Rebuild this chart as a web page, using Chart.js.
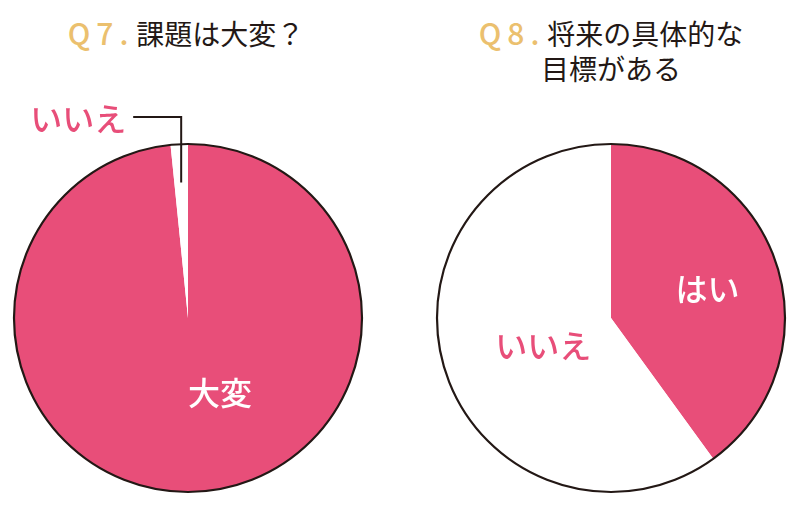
<!DOCTYPE html>
<html>
<head>
<meta charset="utf-8">
<script src="https://cdn.jsdelivr.net/npm/chart.js@4.4.1/dist/chart.umd.min.js"></script>
<style>
  body { margin: 0; background: #fff; width: 800px; height: 507px; position: relative; overflow: hidden;
         font-family: "Noto Sans CJK JP", "Noto Sans", sans-serif; }
  .box { position: absolute; top: 0; width: 400px; height: 507px; }
  .title { position: absolute; top: 15px; text-align: center; font-size: 28px; line-height: 35px;
           color: #231815; white-space: nowrap; }
  .q { color: #EBC06E; font-weight: 500; font-size: 30px; letter-spacing: 6px; margin-right: 2px; }
  canvas { position: absolute; top: 0; left: 0; }
</style>
</head>
<body>
<div class="box" style="left:0">
  <div class="title" style="left:-14px;width:400px"><span class="q">Q7.</span>課題は大変？</div>
  <canvas id="q7" width="400" height="507"></canvas>
</div>
<div class="box" style="left:400px">
  <div class="title" style="left:11px;width:400px"><span class="q">Q8.</span>将来の具体的な<br>目標がある</div>
  <canvas id="q8" width="400" height="507"></canvas>
</div>
<script>
const PINK = '#E84E79';
const INK = '#231815';

const q7Labels = ['大変', 'いいえ'];
const q7Values = [98.4, 1.6];
const q7Colors = [PINK, '#ffffff'];

const q8Labels = ['はい', 'いいえ'];
const q8Values = [40, 60];
const q8Colors = [PINK, '#ffffff'];

// where each label sits: angle from top (deg, clockwise) and fraction of radius; leader = label outside with a line
const q7Place = [{ angle: 157, r: 0.47, color: '#fff' }, { leader: true }];
const q8Place = [{ angle: 73, r: 0.58, color: '#fff' }, { angle: 248, r: 0.42, color: PINK }];

const labelFont = '500 32px "Noto Sans CJK JP", sans-serif';

function pieDeco(place) {
  return {
    id: 'pieDeco',
    afterDatasetsDraw(chart) {
      const ctx = chart.ctx;
      const meta = chart.getDatasetMeta(0);
      const first = meta.data[0];
      const cx = first.x, cy = first.y, R = first.outerRadius;

      // outer ring
      ctx.save();
      ctx.beginPath();
      ctx.arc(cx, cy, R, 0, Math.PI * 2);
      ctx.lineWidth = 2.2;
      ctx.strokeStyle = INK;
      ctx.stroke();

      ctx.font = labelFont;
      ctx.textBaseline = 'middle';
      const labels = chart.data.labels;
      place.forEach((p, i) => {
        const arc = meta.data[i];
        if (!p.leader) {
          const a = p.angle * Math.PI / 180;
          ctx.fillStyle = p.color;
          ctx.textAlign = 'center';
          ctx.fillText(labels[i], cx + Math.sin(a) * R * p.r, cy - Math.cos(a) * R * p.r);
        } else {
          const mid = (arc.startAngle + arc.endAngle) / 2;
          const px = cx + Math.cos(mid) * R * 0.78;
          const py = cy + Math.sin(mid) * R * 0.78;
          const ly = cy - R - 27;
          ctx.beginPath();
          ctx.moveTo(px, py);
          ctx.lineTo(px, ly);
          ctx.lineTo(px - 48, ly);
          ctx.lineWidth = 2;
          ctx.strokeStyle = INK;
          ctx.stroke();
          ctx.fillStyle = PINK;
          ctx.textAlign = 'right';
          ctx.fillText(labels[i], px - 55, ly + 2);
        }
      });
      ctx.restore();
    }
  };
}

function makePie(id, labels, values, colors, place, padding) {
  new Chart(document.getElementById(id), {
    type: 'pie',
    data: {
      labels: labels,
      datasets: [{ data: values, backgroundColor: colors, borderWidth: 0, hoverOffset: 0 }]
    },
    options: {
      responsive: false,
      animation: false,
      layout: { padding: padding },
      plugins: {
        legend: { display: false },
        tooltip: { enabled: false }
      }
    },
    plugins: [pieDeco(place)]
  });
}

makePie('q7', q7Labels, q7Values, q7Colors, q7Place, { left: 14, right: 38, top: 144, bottom: 15 });
makePie('q8', q8Labels, q8Values, q8Colors, q8Place, { left: 37, right: 15, top: 144, bottom: 15 });
</script>
</body>
</html>
